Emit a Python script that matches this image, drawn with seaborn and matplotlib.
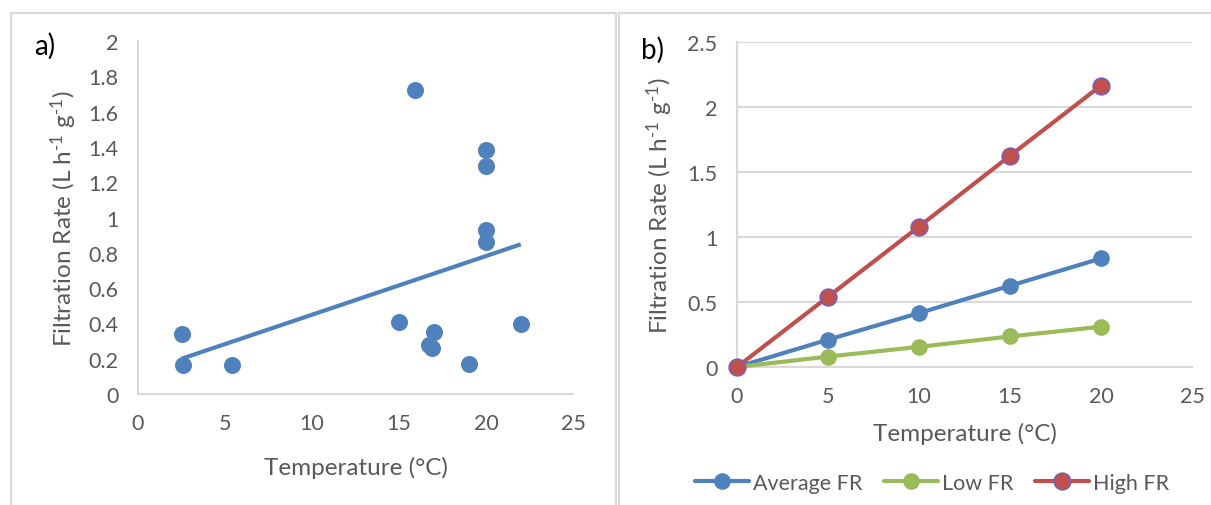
import numpy as np
import pandas as pd
import matplotlib
matplotlib.use("Agg")
import matplotlib.pyplot as plt
from matplotlib.patches import Rectangle
from matplotlib.lines import Line2D
from matplotlib.ticker import FuncFormatter
import seaborn as sns

# Panel a) observed filtration rates
obs_temp = [2.5, 2.6, 5.4, 15.9, 20.0, 20.0, 20.0, 20.0, 15.0, 17.0, 16.7, 16.9, 19.0, 22.0]
obs_rate = [0.34, 0.165, 0.165, 1.72, 1.38, 1.29, 0.93, 0.86, 0.41, 0.35, 0.28, 0.26, 0.17, 0.395]

# Panel b) modelled filtration rates
model_temp = [0, 5, 10, 15, 20]
avg_fr = [0.0, 0.21, 0.415, 0.625, 0.835]
low_fr = [0.0, 0.08, 0.155, 0.235, 0.31]
high_fr = [0.0, 0.54, 1.08, 1.625, 2.165]

sns.set_theme(style="white")
plt.rcParams["font.family"] = ["Lato", "DejaVu Sans"]
plt.rcParams["mathtext.fontset"] = "custom"
plt.rcParams["mathtext.rm"] = "Lato"
plt.rcParams["mathtext.it"] = "Lato:italic"
plt.rcParams["mathtext.bf"] = "Lato:bold"

BLUE = "#4f81bd"
GREEN = "#9bbb59"
RED = "#c0504d"
PURPLE = "#7f5fb0"
TXT = "#595959"
AXC = "#d9d9d9"
TICK_FS = 15.5
LABEL_FS = 17.5
YLABEL = r"Filtration Rate (L h$^{\text{-1}}$ g$^{\text{-1}}$)"

fig = plt.figure(figsize=(12.11, 5.06), dpi=100)

# panel frames
fig.patches.append(Rectangle((11 / 1211, -0.05), (615.5 - 11) / 1211, 1.05 - 14 / 506,
                             transform=fig.transFigure, fill=False, edgecolor=AXC, lw=1.6))
fig.patches.append(Rectangle((618.5 / 1211, -0.05), 0.6, 1.05 - 14 / 506,
                             transform=fig.transFigure, fill=False, edgecolor=AXC, lw=1.6))

fmt = FuncFormatter(lambda v, p: f"{v:g}")

# ---- panel a ----
ax1 = fig.add_axes([138 / 1211, 1 - 395 / 506, (573 - 138) / 1211, (395 - 42) / 506])
df_obs = pd.DataFrame({"T": obs_temp, "FR": obs_rate})
sns.regplot(data=df_obs, x="T", y="FR", ax=ax1, ci=None, color=BLUE,
            scatter_kws={"s": 150, "alpha": 1, "linewidths": 0, "zorder": 3},
            line_kws={"lw": 3, "solid_capstyle": "butt", "zorder": 2})
ax1.set_xlim(0, 25)
ax1.set_ylim(0, 2)
ax1.set_xticks(np.arange(0, 26, 5))
ax1.set_yticks(np.arange(0, 2.01, 0.2))
ax1.yaxis.set_major_formatter(fmt)
for s in ["top", "right"]:
    ax1.spines[s].set_visible(False)
for s in ["left", "bottom"]:
    ax1.spines[s].set_color(AXC)
    ax1.spines[s].set_linewidth(1.5)
ax1.tick_params(length=0, labelsize=TICK_FS, labelcolor=TXT, pad=14)
ax1.set_xlabel("Temperature (°C)", fontsize=LABEL_FS, color=TXT, labelpad=16)
ax1.set_ylabel(YLABEL, fontsize=LABEL_FS, color=TXT, labelpad=7)
fig.text(34 / 1211, 1 - 46 / 506, "a)", fontsize=20, color="black", va="center")

# ---- panel b ----
ax2 = fig.add_axes([737 / 1211, 1 - 368 / 506, (1192 - 737) / 1211, (368 - 43) / 506])
df_mod = pd.DataFrame({
    "T": model_temp * 3,
    "FR": avg_fr + low_fr + high_fr,
    "Series": ["Average FR"] * 5 + ["Low FR"] * 5 + ["High FR"] * 5,
})
styles = {"Average FR": (BLUE, BLUE), "Low FR": (GREEN, GREEN), "High FR": (RED, PURPLE)}
for name, (col, edge) in styles.items():
    sns.lineplot(data=df_mod[df_mod["Series"] == name], x="T", y="FR", ax=ax2,
                 color=col, lw=3, marker="o", markersize=12,
                 markeredgecolor=edge, markeredgewidth=1.2 if edge != col else 0,
                 zorder=3, clip_on=False)
ax2.set_xlim(0, 25)
ax2.set_ylim(0, 2.5)
ax2.set_xticks(np.arange(0, 26, 5))
ax2.set_yticks(np.arange(0, 2.51, 0.5))
ax2.yaxis.set_major_formatter(fmt)
ax2.grid(axis="y", color=AXC, lw=1.5)
ax2.set_axisbelow(True)
for s in ["top", "right"]:
    ax2.spines[s].set_visible(False)
for s in ["left", "bottom"]:
    ax2.spines[s].set_color(AXC)
    ax2.spines[s].set_linewidth(1.5)
ax2.tick_params(length=0, labelsize=TICK_FS, labelcolor=TXT, pad=14)
ax2.set_xlabel("Temperature (°C)", fontsize=LABEL_FS, color=TXT, labelpad=11)
ax2.set_ylabel(YLABEL, fontsize=LABEL_FS, color=TXT, labelpad=9)
fig.text(641 / 1211, 1 - 50 / 506, "b)", fontsize=20, color="black", va="center")

handles = [Line2D([], [], color=c, lw=3, marker="o", markersize=12,
                  markeredgecolor=e, markeredgewidth=1.2 if e != c else 0)
           for c, e in styles.values()]
fig.legend(handles, list(styles.keys()), loc="center", bbox_to_anchor=(932 / 1211, 1 - 484 / 506),
           ncol=3, frameon=False, fontsize=TICK_FS, labelcolor=TXT, handlelength=2.5,
           handletextpad=0.2, columnspacing=1.0)

fig.savefig("out.png", dpi=100)
